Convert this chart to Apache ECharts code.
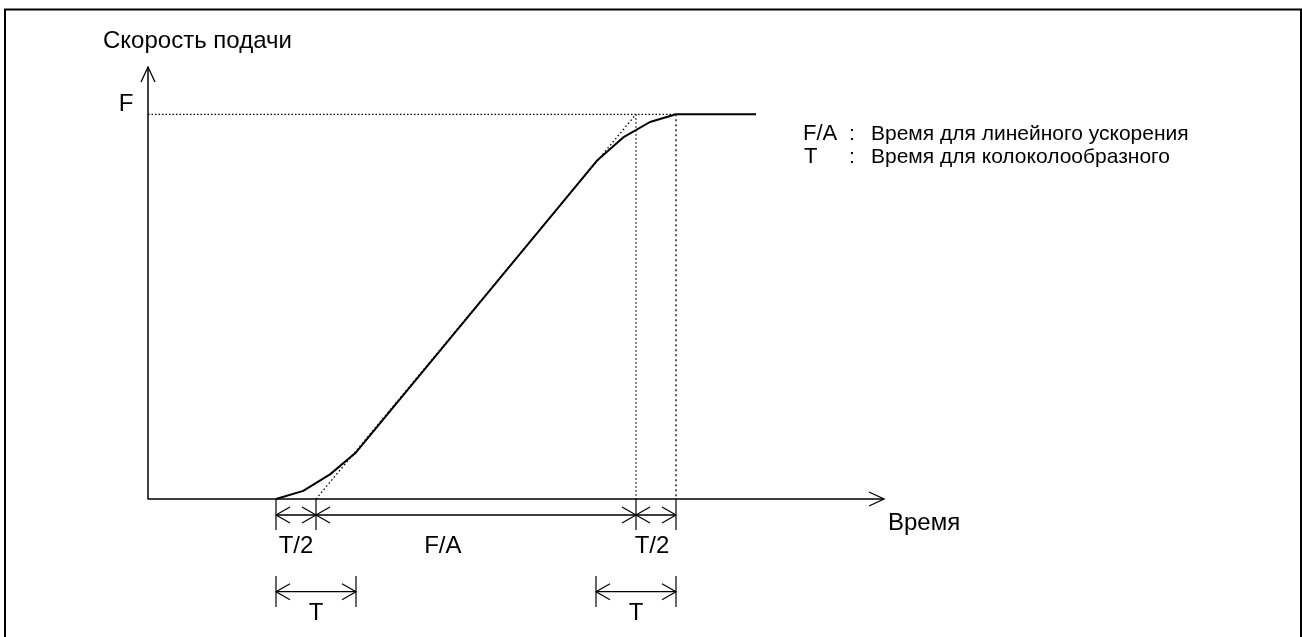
<!DOCTYPE html>
<html><head><meta charset="utf-8">
<script src="https://cdn.jsdelivr.net/npm/echarts@6/dist/echarts.min.js"></script>
<style>html,body{margin:0;padding:0;background:#fff}#c{width:1302px;height:637px}</style>
</head><body><div id="c"></div>
<script>
// ---- Data (time in units of T/2, speed as fraction of F) ----
const curveTime   = [3.2, 3.88, 4.55, 5.2, 11.22, 11.88, 12.55, 13.2, 15.2];
const curveSpeed  = [0, 0.021, 0.064, 0.121, 0.879, 0.94, 0.98, 1, 1];
const linearTime  = [4.2, 12.2];
const linearSpeed = [0, 1];
const feedF = 1;
const axisEnds = [18.4, 1.123];            // end of time axis, end of speed axis
const markTimes = [3.2, 4.2, 12.2, 13.2];  // start, +T/2, +F/A, +T/2
const tSpans = [[3.2, 5.2], [11.2, 13.2]];
const dimLabels = ['T/2', 'F/A', 'T/2'];
const spanLabel = 'T';
const yName = 'Скорость подачи';
const xName = 'Время';
const fLabel = 'F';
const noteKeys = ['F/A', 'T'];
const noteTexts = ['Время для линейного ускорения', 'Время для колоколообразного'];

// ---- layout constants ----
const FONT = "'Liberation Sans', Arial, Helvetica, sans-serif";
const ROW1 = -0.0416, ROW1_TICK = -0.0806;
const ROW2 = -0.241, ROW2_TOP = -0.2, ROW2_BOT = -0.281;
const LBL1_Y = -0.124, LBL2_Y = -0.297;
const dimLabelX = [3.7, 7.37, 12.6];

function arrow(api, x, y, dir, len, hw, lw) {
  const p = api.coord([x, y]);
  const dx = dir[0], dy = dir[1];
  const bx = p[0] - dx * len, by = p[1] - dy * len;
  return {
    type: 'polyline',
    shape: { points: [[bx - dy * hw, by + dx * hw], [p[0], p[1]], [bx + dy * hw, by - dx * hw]] },
    style: { stroke: '#000', fill: null, lineWidth: lw }
  };
}
function seg(api, a, b, lw) {
  const p = api.coord(a), q = api.coord(b);
  return { type: 'line', shape: { x1: p[0], y1: p[1], x2: q[0], y2: q[1] },
           style: { stroke: '#000', lineWidth: lw } };
}

const row1Segs = [];
for (let i = 0; i < markTimes.length - 1; i++) row1Segs.push([markTimes[i], markTimes[i + 1], ROW1]);
const row2Segs = tSpans.map(s => [s[0], s[1], ROW2]);
const dimData = row1Segs.concat(row2Segs);

const tickData = markTimes.map(t => [t, 0, ROW1_TICK])
  .concat(tSpans.flatMap(s => [[s[0], ROW2_TOP, ROW2_BOT], [s[1], ROW2_TOP, ROW2_BOT]]));

const textItems = [];
dimLabels.forEach((t, i) => textItems.push({ v: [dimLabelX[i], LBL1_Y], t }));
tSpans.forEach(s => textItems.push({ v: [(s[0] + s[1]) / 2, LBL2_Y], t: spanLabel }));

const chart = echarts.init(document.getElementById('c'), null, { renderer: 'canvas' });
chart.setOption({
  animation: false,
  backgroundColor: '#fff',
  grid: { left: 148, top: 56.6, width: 800, height: 557.8 },
  xAxis: { type: 'value', min: 0, max: 20, show: false },
  yAxis: { type: 'value', min: -0.3, max: 1.15, show: false },
  graphic: [
    { type: 'rect', shape: { x: 5, y: 9.5, width: 1296, height: 700 },
      style: { fill: null, stroke: '#000', lineWidth: 2 }, silent: true },
    { type: 'text', left: 103, top: 29, style: { text: yName, font: '24px ' + FONT, fill: '#000' } },
    { type: 'text', left: 888, top: 511, style: { text: xName, font: '24px ' + FONT, fill: '#000' } },
    { type: 'text', left: 803, top: 123, style: { text: noteKeys[0], font: '22px ' + FONT, fill: '#000' } },
    { type: 'text', left: 849, top: 124, style: { text: ':', font: '21px ' + FONT, fill: '#000' } },
    { type: 'text', left: 871, top: 124, style: { text: noteTexts[0], font: '21px ' + FONT, fill: '#000' } },
    { type: 'text', left: 804, top: 146, style: { text: noteKeys[1], font: '22px ' + FONT, fill: '#000' } },
    { type: 'text', left: 849, top: 147, style: { text: ':', font: '21px ' + FONT, fill: '#000' } },
    { type: 'text', left: 871, top: 147, style: { text: noteTexts[1], font: '21px ' + FONT, fill: '#000' } }
  ],
  series: [
    {
      type: 'line', symbol: 'none', silent: true, z: 3,
      data: [[axisEnds[0], 0], [0, 0], [0, axisEnds[1]]],
      lineStyle: { color: '#000', width: 1.5 }
    },
    {
      type: 'line', symbol: 'none', silent: true, z: 2,
      data: [[0, feedF], [markTimes[3], feedF]],
      lineStyle: { color: '#000', width: 1.2, type: [1.5, 2] }
    },
    {
      type: 'line', symbol: 'none', silent: true, z: 2,
      data: [[markTimes[2], feedF], [markTimes[2], 0]],
      lineStyle: { color: '#000', width: 1.2, type: [1.5, 2.5] }
    },
    {
      type: 'line', symbol: 'none', silent: true, z: 2,
      data: [[markTimes[3], feedF], [markTimes[3], 0]],
      lineStyle: { color: '#000', width: 1.3, type: [2, 3] }
    },
    {
      type: 'line', symbol: 'none', silent: true, z: 2,
      data: linearTime.map((t, i) => [t, linearSpeed[i]]),
      lineStyle: { color: '#000', width: 1.3, type: [1.5, 2.5] }
    },
    {
      type: 'line', symbol: 'none', silent: true, z: 4,
      data: curveTime.map((t, i) => [t, curveSpeed[i]]),
      lineStyle: { color: '#000', width: 2 }
    },
    {
      type: 'custom', silent: true, z: 5,
      data: [[axisEnds[0], 0, 0], [0, axisEnds[1], 1]],
      renderItem: function (params, api) {
        const horiz = api.value(2) === 0;
        return arrow(api, api.value(0), api.value(1), horiz ? [1, 0] : [0, -1], 15, 7, 1.3);
      }
    },
    {
      type: 'custom', silent: true, z: 5,
      data: tickData,
      renderItem: function (params, api) {
        const x = api.value(0);
        return seg(api, [x, api.value(1)], [x, api.value(2)], 1.2);
      }
    },
    {
      type: 'custom', silent: true, z: 5,
      data: dimData,
      renderItem: function (params, api) {
        const a = api.value(0), b = api.value(1), y = api.value(2);
        return { type: 'group', children: [
          seg(api, [a, y], [b, y], 1.3),
          arrow(api, a, y, [-1, 0], 14, 8, 1.2),
          arrow(api, b, y, [1, 0], 14, 8, 1.2)
        ] };
      }
    },
    {
      type: 'custom', silent: true, z: 5,
      data: textItems.map(d => d.v),
      renderItem: function (params, api) {
        const p = api.coord([api.value(0), api.value(1)]);
        return { type: 'text', x: p[0], y: p[1],
          style: { text: textItems[params.dataIndex].t, font: '24px ' + FONT, fill: '#000',
                   align: 'center', verticalAlign: 'middle' } };
      }
    },
    {
      type: 'custom', silent: true, z: 5,
      data: [[0, feedF]],
      renderItem: function (params, api) {
        const p = api.coord([api.value(0), api.value(1)]);
        return { type: 'text', x: p[0] - 22, y: p[1] - 10,
          style: { text: fLabel, font: '24px ' + FONT, fill: '#000',
                   align: 'center', verticalAlign: 'middle' } };
      }
    }
  ]
});
</script>
</body></html>
